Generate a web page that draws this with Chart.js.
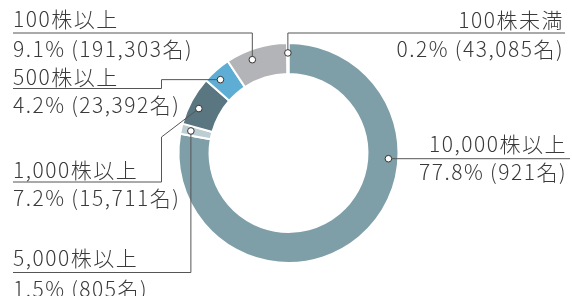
<!DOCTYPE html>
<html>
<head>
<meta charset="utf-8">
<script src="https://cdn.jsdelivr.net/npm/chart.js@4/dist/chart.umd.min.js"></script>
<style>
  html, body { margin: 0; padding: 0; background: #fff; }
  #wrap { width: 572px; height: 296px; position: relative; }
</style>
</head>
<body>
<div id="wrap"><canvas id="ratio"></canvas></div>
<script>
// ---- data ----
const categories = ["10,000株以上", "5,000株以上", "1,000株以上", "500株以上", "100株以上", "100株未満"];
const shares = [77.8, 1.5, 7.2, 4.2, 9.1, 0.2];
const holders = ["921", "805", "15,711", "23,392", "191,303", "43,085"];
const colors = ["#7e9ea8", "#bccdd3", "#5a7681", "#5eadd4", "#b3b4b8", "#c9cacd"];

// ---- label layout: where each caption sits and where its leader goes ----
// frac = position of the dot along its slice
const layout = [
  { side: "right", x: 567, b1: 152, b2: 179.5, frac: 0.333 },
  { side: "left",  x: 13,  b1: 266, b2: 297,   frac: 0.49, uy: 272.5 },
  { side: "left",  x: 13,  b1: 177.5, b2: 206, frac: 0.42, uy: 182, knee: 161.5, kneeY: 137 },
  { side: "left",  x: 13,  b1: 84.5, b2: 113,  frac: 0.38, uy: 88.5, knee: 161.5 },
  { side: "left",  x: 13,  b1: 27, b2: 57,     frac: 0.375, uy: 33 },
  { side: "right", x: 564, b1: 27.5, b2: 57,   frac: 0.5, uy: 33, end: 565 }
];

const leaders = {
  id: "leaders",
  afterDatasetsDraw(chart) {
    const ctx = chart.ctx;
    const arcs = chart.getDatasetMeta(0).data;
    const dot = (i) => {
      const a = arcs[i];
      const ang = a.startAngle + (a.endAngle - a.startAngle) * layout[i].frac;
      const r = a.innerRadius + (a.outerRadius - a.innerRadius) * 0.68;
      return { x: a.x + Math.cos(ang) * r, y: a.y + Math.sin(ang) * r };
    };

    ctx.save();
    ctx.strokeStyle = "#555";
    ctx.lineWidth = 1;

    const line = (pts) => {
      ctx.beginPath();
      ctx.moveTo(pts[0][0], pts[0][1]);
      for (let k = 1; k < pts.length; k++) ctx.lineTo(pts[k][0], pts[k][1]);
      ctx.stroke();
    };

    const dots = categories.map((c, i) => dot(i));

    // leader lines
    let d = dots[0];
    line([[d.x, d.y], [570, d.y]]);
    d = dots[1];
    line([[13, layout[1].uy], [d.x, layout[1].uy], [d.x, d.y]]);
    d = dots[2];
    line([[13, layout[2].uy], [layout[2].knee, layout[2].uy], [layout[2].knee, layout[2].kneeY], [d.x, d.y]]);
    d = dots[3];
    line([[13, layout[3].uy], [layout[3].knee, layout[3].uy], [layout[3].knee, d.y], [d.x, d.y]]);
    d = dots[4];
    line([[13, layout[4].uy], [d.x, layout[4].uy], [d.x, d.y]]);
    d = dots[5];
    line([[layout[5].end, layout[5].uy], [d.x, layout[5].uy], [d.x, d.y]]);

    // dots
    dots.forEach(p => {
      ctx.beginPath();
      ctx.arc(p.x, p.y, 3.3, 0, Math.PI * 2);
      ctx.fillStyle = "#fff";
      ctx.fill();
      ctx.strokeStyle = "#333";
      ctx.stroke();
    });

    // captions
    ctx.fillStyle = "#3a3a3a";
    ctx.font = '300 21px "Noto Sans CJK JP"';
    ctx.letterSpacing = "1.5px";
    ctx.textBaseline = "alphabetic";
    categories.forEach((c, i) => {
      const L = layout[i];
      ctx.textAlign = L.side === "right" ? "right" : "left";
      ctx.fillText(c, L.x, L.b1);
      ctx.fillText(shares[i] + "%\u2009(" + holders[i] + "名)", L.x, L.b2);
    });
    ctx.restore();
  }
};

new Chart(document.getElementById("ratio"), {
  type: "doughnut",
  data: {
    labels: categories,
    datasets: [{
      data: shares,
      backgroundColor: colors,
      borderColor: "#fff",
      borderWidth: 2,
      hoverOffset: 0
    }]
  },
  options: {
    responsive: true,
    maintainAspectRatio: false,
    animation: false,
    events: [],
    radius: 110,
    cutout: "71.8%",
    layout: { padding: { left: 180, right: 175, top: 45, bottom: 35 } },
    plugins: {
      legend: { display: false },
      tooltip: { enabled: false }
    }
  },
  plugins: [leaders]
});
</script>
</body>
</html>
